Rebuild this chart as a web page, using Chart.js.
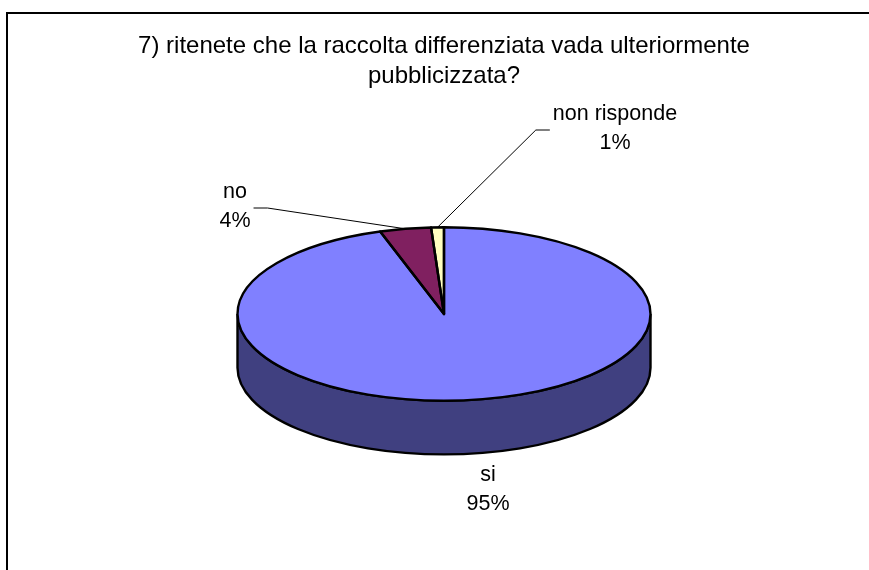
<!DOCTYPE html>
<html>
<head>
<meta charset="utf-8">
<script src="https://cdn.jsdelivr.net/npm/chart.js@4"></script>
<style>
  html, body { margin: 0; padding: 0; background: #fff; overflow: hidden; }
  #wrap { position: relative; width: 869px; height: 570px; }
  #frame { position: absolute; left: 6px; top: 12px; right: 0; bottom: 0;
           border-top: 2px solid #000; border-left: 2px solid #000; pointer-events: none; }
</style>
</head>
<body>
<div id="wrap">
  <canvas id="torta"></canvas>
  <div id="frame"></div>
</div>
<script>
    const categorie = ['si', 'no', 'non risponde'];
    const valori = [95, 4, 1];
    const titolo = ['7) ritenete che la raccolta differenziata vada ulteriormente', 'pubblicizzata?'];

    const coloriSopra = ['#8080ff', '#802060', '#ffffc0'];
    const coloriLato = ['#404080', '#401030', '#808060'];

    // centro di ogni etichetta, misurato dal centro della torta
    const spostamentiEtichette = [[44, 176], [-209, -107], [171, -185]];
    const lineeGuida = [false, true, true];

    const inclinazione = 0.42;   // schiacciamento verticale della faccia superiore
    const spessore = 0.26;       // altezza del lato rispetto al raggio
    const bordo = 2.4;
    const famiglia = '"Liberation Sans", Arial, sans-serif';

    function geometria(chart) {
        const arcs = chart.getDatasetMeta(0).data;
        return { arcs: arcs, cx: arcs[0].x, cy: arcs[0].y, r: arcs[0].outerRadius };
    }

    const torta3d = {
        id: 'torta3d',
        beforeDatasetsDraw(chart) {
            // lato visibile (solo la metà davanti, angoli 0..PI)
            const ctx = chart.ctx;
            const { arcs, cx, cy, r } = geometria(chart);
            const ry = r * inclinazione, h = r * spessore;
            arcs.forEach((arc, i) => {
                [[0, Math.PI], [2 * Math.PI, 3 * Math.PI]].forEach(([lo, hi]) => {
                    const a = Math.max(arc.startAngle, lo), b = Math.min(arc.endAngle, hi);
                    if (b <= a) return;
                    ctx.save();
                    ctx.beginPath();
                    ctx.ellipse(cx, cy, r, ry, 0, a, b);
                    ctx.ellipse(cx, cy + h, r, ry, 0, b, a, true);
                    ctx.closePath();
                    ctx.fillStyle = coloriLato[i];
                    ctx.fill();
                    ctx.lineWidth = bordo;
                    ctx.strokeStyle = '#000';
                    ctx.stroke();
                    ctx.restore();
                });
            });
        },
        beforeDatasetDraw(chart) {
            const { cy } = geometria(chart);
            chart.ctx.save();
            chart.ctx.translate(0, cy);
            chart.ctx.scale(1, inclinazione);
            chart.ctx.translate(0, -cy);
        },
        afterDatasetDraw(chart) {
            chart.ctx.restore();
        },
        afterDatasetsDraw(chart) {
            // bordi neri disegnati senza scala, così hanno spessore uniforme
            const ctx = chart.ctx;
            const { arcs, cx, cy, r } = geometria(chart);
            const ry = r * inclinazione;
            ctx.save();
            arcs.forEach(arc => {
                ctx.beginPath();
                ctx.moveTo(cx, cy);
                ctx.ellipse(cx, cy, r, ry, 0, arc.startAngle, arc.endAngle);
                ctx.closePath();
                ctx.lineWidth = bordo;
                ctx.lineJoin = 'round';
                ctx.strokeStyle = '#000';
                ctx.stroke();
            });
            ctx.restore();
        },
        afterDraw(chart) {
            const ctx = chart.ctx;
            const { arcs, cx, cy, r } = geometria(chart);
            const ry = r * inclinazione;
            const totale = valori.reduce((s, v) => s + v, 0);
            const lh = 29;
            ctx.save();
            ctx.font = '21.5px ' + famiglia;
            ctx.fillStyle = '#000';
            ctx.textAlign = 'center';
            ctx.textBaseline = 'middle';
            arcs.forEach((arc, i) => {
                const [dx, dy] = spostamentiEtichette[i];
                const lx = cx + dx, ly = cy + dy;
                const righe = [categorie[i], Math.round(valori[i] / totale * 100) + '%'];
                righe.forEach((t, j) => ctx.fillText(t, lx, ly + (j - 0.5) * lh));
                if (lineeGuida[i]) {
                    const mid = (arc.startAngle + arc.endAngle) / 2;
                    const px = cx + r * Math.cos(mid), py = cy + ry * Math.sin(mid);
                    const w = Math.max(...righe.map(t => ctx.measureText(t).width));
                    const lato = px > lx ? 1 : -1;
                    const sx = lx + lato * (w / 2 + 3), sy = ly + 1;
                    ctx.beginPath();
                    ctx.moveTo(sx, sy);
                    ctx.lineTo(sx + lato * 14, sy);
                    ctx.lineTo(px, py);
                    ctx.lineWidth = 1;
                    ctx.strokeStyle = '#000';
                    ctx.stroke();
                }
            });
            ctx.restore();
        }
    };

    new Chart(document.getElementById('torta'), {
        type: 'pie',
        data: {
            labels: categorie,
            datasets: [{
                data: valori,
                backgroundColor: coloriSopra,
                borderWidth: 0
            }]
        },
        options: {
            responsive: true,
            maintainAspectRatio: false,
            animation: false,
            layout: { padding: { top: 0, left: 19, right: 0, bottom: 49.5 } },
            plugins: {
                legend: { display: false },
                tooltip: { enabled: false },
                title: {
                    display: true,
                    text: titolo,
                    color: '#000',
                    font: { family: famiglia, size: 24, weight: 'normal', lineHeight: 30 / 24 },
                    padding: { top: 31, bottom: 16.5 }
                }
            }
        },
        plugins: [torta3d]
    });
</script>
</body>
</html>
